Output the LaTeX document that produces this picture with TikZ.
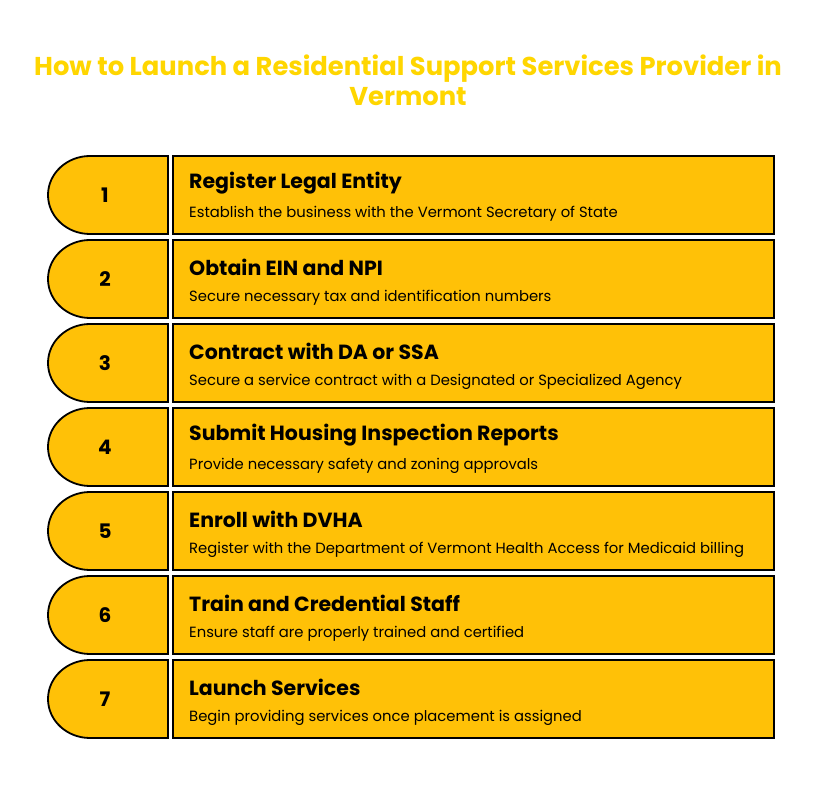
\documentclass[tikz,border=0pt]{standalone}
\usepackage{fontspec}
\setmainfont{Poppins}
\definecolor{stepfill}{HTML}{FFC107}
\definecolor{titlegold}{HTML}{FFD600}
\begin{document}
\begin{tikzpicture}[x=1pt,y=-1pt,
  tab/.style={draw=black,fill=stepfill,line width=1.8pt},
  stepbox/.style={draw=black,fill=stepfill,line width=1.8pt,minimum width=601pt,minimum height=78pt,inner sep=0pt},
  num/.style={font=\fontsize{20}{24}\selectfont\bfseries},
  head/.style={anchor=west,inner sep=0pt,font=\fontsize{20.5}{24}\selectfont\bfseries},
  desc/.style={anchor=west,inner sep=0pt,font=\fontsize{14.8}{17}\selectfont}]
\useasboundingbox[fill=white] (0,0) rectangle (823,810);

\node[align=center,text=titlegold,font=\fontsize{25.8}{30}\selectfont\bfseries] (title) at (408,80)
  {How to Launch a Residential Support Services Provider in\\Vermont};

% step 1
\path[tab] (168,156) -- (90,156) arc[start angle=270,end angle=90,x radius=42,y radius=39] -- (168,234) -- cycle;
\node[num] (n1) at (105,195) {1};
\node[stepbox] (s1) at (473.5,195) {};
\node[head] (h1) at (189,183) {Register Legal Entity};
\node[desc] (d1) at (189,214) {Establish the business with the Vermont Secretary of State};

% step 2
\path[tab] (168,240) -- (90,240) arc[start angle=270,end angle=90,x radius=42,y radius=39] -- (168,318) -- cycle;
\node[num] (n2) at (105,279) {2};
\node[stepbox] (s2) at (473.5,279) {};
\node[head] (h2) at (189,267) {Obtain EIN and NPI};
\node[desc] (d2) at (189,298) {Secure necessary tax and identification numbers};

% step 3
\path[tab] (168,324) -- (90,324) arc[start angle=270,end angle=90,x radius=42,y radius=39] -- (168,402) -- cycle;
\node[num] (n3) at (105,363) {3};
\node[stepbox] (s3) at (473.5,363) {};
\node[head] (h3) at (189,351) {Contract with DA or SSA};
\node[desc] (d3) at (189,382) {Secure a service contract with a Designated or Specialized Agency};

% step 4
\path[tab] (168,408) -- (90,408) arc[start angle=270,end angle=90,x radius=42,y radius=39] -- (168,486) -- cycle;
\node[num] (n4) at (105,447) {4};
\node[stepbox] (s4) at (473.5,447) {};
\node[head] (h4) at (189,435) {Submit Housing Inspection Reports};
\node[desc] (d4) at (189,466) {Provide necessary safety and zoning approvals};

% step 5
\path[tab] (168,492) -- (90,492) arc[start angle=270,end angle=90,x radius=42,y radius=39] -- (168,570) -- cycle;
\node[num] (n5) at (105,531) {5};
\node[stepbox] (s5) at (473.5,531) {};
\node[head] (h5) at (189,519) {Enroll with DVHA};
\node[desc] (d5) at (189,550) {Register with the Department of Vermont Health Access for Medicaid billing};

% step 6
\path[tab] (168,576) -- (90,576) arc[start angle=270,end angle=90,x radius=42,y radius=39] -- (168,654) -- cycle;
\node[num] (n6) at (105,615) {6};
\node[stepbox] (s6) at (473.5,615) {};
\node[head] (h6) at (189,603) {Train and Credential Staff};
\node[desc] (d6) at (189,634) {Ensure staff are properly trained and certified};

% step 7
\path[tab] (168,660) -- (90,660) arc[start angle=270,end angle=90,x radius=42,y radius=39] -- (168,738) -- cycle;
\node[num] (n7) at (105,699) {7};
\node[stepbox] (s7) at (473.5,699) {};
\node[head] (h7) at (189,687) {Launch Services};
\node[desc] (d7) at (189,718) {Begin providing services once placement is assigned};
\end{tikzpicture}
\end{document}
